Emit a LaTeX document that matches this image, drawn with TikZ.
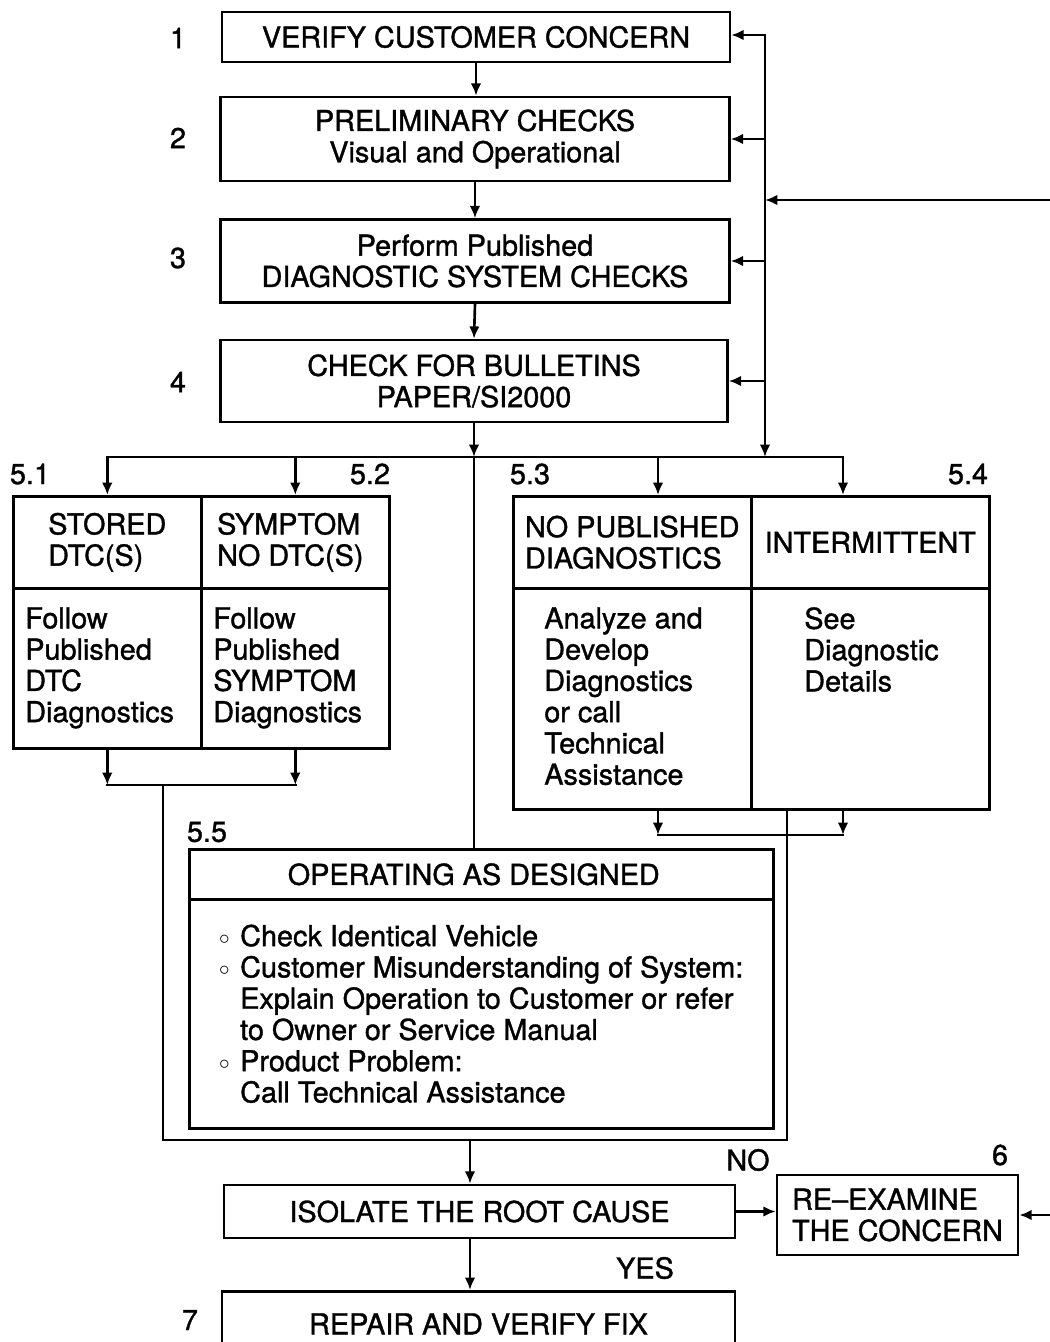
\documentclass[tikz,border=0pt]{standalone}
\usepackage{fontspec}
\setmainfont{TeX Gyre Heros}[FakeBold=1.2]
\usetikzlibrary{arrows.meta, positioning, calc}

\begin{document}
\begin{tikzpicture}[x=0.02cm, y=-0.02cm, >={Latex[length=7pt,width=6pt]},
  font=\fontsize{16.4}{17.8}\selectfont, line width=1.5pt,
  box/.style={draw, align=center, inner sep=0pt},
  cell/.style={draw, align=left, inner sep=0pt, anchor=north west},
  tag/.style={inner sep=0pt},
  flow/.style={->}]
  \useasboundingbox (0,0) rectangle (1050,1342);

  % --- Main column (explicit coords)
  \node[box, minimum width=10.16cm, minimum height=1.0cm]  (verify) at (476,37)  {VERIFY CUSTOMER CONCERN};
  \node[box, minimum width=10.18cm, minimum height=1.68cm] (prelim) at (475,139) {PRELIMINARY CHECKS\\Visual and Operational};
  \node[box, minimum width=10.18cm, minimum height=1.66cm] (sysck)  at (475,261) {Perform Published\\DIAGNOSTIC SYSTEM CHECKS};
  \node[box, minimum width=10.14cm, minimum height=1.64cm] (bulle)  at (474,381) {CHECK FOR BULLETINS\\PAPER/SI2000};

  \node[tag] (n1) at (178,38)  {1};
  \node[tag] (n2) at (178,138) {2};
  \node[tag] (n3) at (178,258) {3};
  \node[tag] (n4) at (178,382) {4};

  \draw[flow] (verify.south) -- (verify.south |- prelim.north);
  \draw[flow] (prelim.south) -- (sysck.north);
  \draw[flow] (sysck.south)  -- (bulle.north);

  % --- Feedback bus on the right
  \coordinate (fbtop) at (765,35);
  \coordinate (fbbot) at (765,457);
  \coordinate (fbin)  at (1050,200);
  \draw[<->] (verify.east |- fbtop) -- (fbtop) -- (fbbot);
  \draw[flow] (prelim.east -| fbtop) -- (prelim.east);
  \draw[flow] (sysck.east -| fbtop)  -- (sysck.east);
  \draw[flow] (bulle.east -| fbtop)  -- (bulle.east);
  \draw[flow] (fbin) -- (fbin -| fbtop);

  % --- Split boxes 5.1 / 5.2
  \node[cell, minimum width=3.76cm, minimum height=1.84cm] (s51h) at (12,495)  {STORED\\DTC(S)};
  \node[cell, minimum width=3.76cm, minimum height=1.84cm] (s52h) at (200,495) {SYMPTOM\\NO DTC(S)\hspace*{.2cm}};
  \node[cell, minimum width=3.76cm, minimum height=3.2cm]  (s51b) at (12,587)  {};
  \node[cell, minimum width=3.76cm, minimum height=3.2cm]  (s52b) at (200,587) {};
  \node[tag, anchor=north west, align=left] (s51t) at ([xshift=.24cm,yshift=-.38cm]s51b.north west)
    {Follow\\Published\\DTC\\Diagnostics};
  \node[tag, anchor=north west, align=left] (s52t) at ([xshift=.24cm,yshift=-.38cm]s52b.north west)
    {Follow\\Published\\SYMPTOM\\Diagnostics};

  % --- Split boxes 5.3 / 5.4
  \node[cell, minimum width=4.76cm, minimum height=1.84cm] (s53h) at (512,495) {NO PUBLISHED\\DIAGNOSTICS};
  \node[cell, minimum width=4.76cm, minimum height=1.84cm] (s54h) at (750,495) {INTERMITTENT};
  \node[cell, minimum width=4.76cm, minimum height=4.42cm] (s53b) at (512,587) {};
  \node[cell, minimum width=4.76cm, minimum height=4.42cm] (s54b) at (750,587) {};
  \node[tag, anchor=north west, align=left] (s53t) at ([xshift=.62cm,yshift=-.38cm]s53b.north west)
    {Analyze and\\Develop\\Diagnostics\\or call\\Technical\\Assistance};
  \node[tag, anchor=north west, align=left] (s54t) at ([xshift=1.06cm,yshift=-.38cm]s54b.north west)
    {See\\Diagnostic\\Details};

  \node[tag] (l51) at (30,474)  {5.1};
  \node[tag] (l52) at (370,474) {5.2};
  \node[tag] (l53) at (530,474) {5.3};
  \node[tag] (l54) at (968,474) {5.4};

  % --- Distribution line below box 4
  \coordinate (a53) at (658,457);
  \coordinate (a54) at (843,457);
  \draw[<->] (s51h.north) -- (s51h.north |- fbbot) -- (a54) -- (a54 |- s54h.north);
  \draw[flow] (s52h.north |- fbbot) -- (s52h.north);
  \draw[flow] (a53) -- (a53 |- s53h.north);
  \draw[flow] (bulle.south) -- (bulle.south |- fbbot);

  % --- Operating as designed
  \node[cell, align=center, minimum width=11.68cm, minimum height=1.0cm] (o55h) at (188,848) {OPERATING AS DESIGNED\hspace*{.3cm}};
  \node[cell, minimum width=11.68cm, minimum height=4.58cm] (o55b) at (188,898)
    {\makebox[.42cm][l]{\raisebox{.1ex}{$\scriptstyle\circ$}}Check Identical Vehicle\\
     \makebox[.42cm][l]{\raisebox{.1ex}{$\scriptstyle\circ$}}Customer Misunderstanding of System:\\
     \hspace*{.42cm}Explain Operation to Customer or refer\\
     \hspace*{.42cm}to Owner or Service Manual\\
     \makebox[.42cm][l]{\raisebox{.1ex}{$\scriptstyle\circ$}}Product Problem:\\
     \hspace*{.42cm}Call Technical Assistance};
  \node[tag] (l55) at (207,832) {5.5};
  \draw (bulle.south |- fbbot) -- (bulle.south |- o55h.north);

  % --- Collecting lines round 5.5
  \coordinate (lj)  at (163,785);
  \coordinate (rj)  at (658,835);
  \coordinate (fbl) at (163,1140);
  \coordinate (fbr) at (787,1140);
  \coordinate (fb)  at (470,1140);
  \draw[flow] (s51b.south) -- (s51b.south |- lj);
  \draw[flow] (s52b.south) -- (s52b.south |- lj);
  \draw[line cap=rect] (s51b.south |- lj) -- (s52b.south |- lj);
  \draw[flow] (rj |- s53b.south) -- (rj);
  \draw[flow] (a54 |- s54b.south) -- (a54 |- rj);
  \draw[line cap=rect] (rj) -- (a54 |- rj);
  \draw (lj) -- (fbl) -- (fbr) -- (fbr |- s53b.south);

  % --- Root cause / re-examine / repair
  \node[box, minimum width=10.22cm, minimum height=1.06cm] (iso) at (479.5,1211.5) {ISOLATE THE ROOT CAUSE};
  \node[box, align=left, minimum width=4.82cm, minimum height=1.6cm] (reex) at (897.5,1215) {RE--EXAMINE\\THE CONCERN};
  \node[box, anchor=north, minimum width=10.26cm, minimum height=1.3cm] (repair) at (478.5,1290) {REPAIR AND VERIFY FIX};
  \coordinate (rein) at (1050,1215);

  \draw[flow] (fb) -- (fb |- iso.north);
  \draw[flow] (iso.east) -- (iso.east -| reex.west);
  \draw[flow] (rein) -- (reex.east);
  \draw[flow] (fb |- iso.south) -- (fb |- repair.north);

  \node[tag] (no)  at (748,1160)  {NO};
  \node[tag] (yes) at (645,1268)  {YES};
  \node[tag] (n6)  at (1000,1155) {6};
  \node[tag] (n7)  at (190,1320)  {7};
\end{tikzpicture}
\end{document}
